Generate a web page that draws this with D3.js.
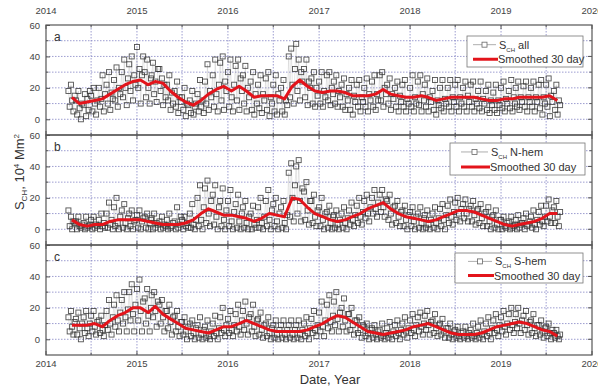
<!DOCTYPE html>
<html>
<head>
<meta charset="utf-8">
<script src="https://cdn.jsdelivr.net/npm/d3@7"></script>
<style>
body { margin: 0; background: #fff; }
text { font-family: "Liberation Sans", Arial, sans-serif; }
</style>
</head>
<body>
<div id="chart"></div>
<script>
// chart data (one entry per month, Apr 2014 - Aug 2019)
var firstMonth = new Date(2014, 3, 1);
var lastMonth = new Date(2019, 8, 1);
var years = [2014, 2015, 2016, 2017, 2018, 2019, 2020];
var yTicks = [0, 20, 40, 60];
var panelLetters = ["a", "b", "c"];
var seriesNames = ["all", "N-hem", "S-hem"];
var smoothName = "Smoothed 30 day";

var smoothAll = [14,10,11,12,13,16,19,22,24,
  25,22,24,23,18,14,11,9,12,16,19,21,
  18,21,18,14,15,15,15,13,21,25,21,18,
  17,18,18,17,15,15,15,16,19,16,15,14,
  14,15,14,12,13,14,14,14,14,13,12,12,
  13,13,14,14,14,14,15,12];
var smoothN = [6,3,2,3,3,5,6,6,6,
  6,5,4,3,3,3,4,6,10,13,11,9,
  9,8,7,5,7,10,9,8,20,19,14,10,
  8,6,5,6,8,10,13,15,17,13,10,8,
  7,6,5,6,8,10,12,12,11,9,7,5,
  3,2,3,4,5,7,10,10];
var smoothS = [9,9,9,10,8,12,15,17,20,
  20,17,21,16,13,10,7,6,5,4,6,8,
  8,10,12,10,8,6,5,5,5,5,6,8,
  10,13,15,14,11,8,5,4,3,4,5,6,
  8,9,10,8,6,4,3,3,3,4,6,8,
  9,10,11,10,8,6,5,2];

var scatterAll = [
  [18,8,22,12,5,15],[12,3,18,7,0,10],[9,16,2,13,6,18],[15,5,20,10,3,12],[20,8,13,28,5,16],
  [22,10,30,6,17,13],[25,12,33,8,20,16],[30,14,38,20,9,26],[35,18,40,12,28,22],
  [46,20,32,10,28,40],[30,14,38,20,10,26],[28,36,16,24,11,32],[32,18,26,9,22,14],[22,12,28,6,17,10],
  [18,8,24,4,14,11],[14,6,20,2,10,9],[12,4,18,3,8,10],[16,5,25,8,12,4],[24,10,35,6,18,14],
  [28,8,38,16,5,22],[36,12,40,6,24,18],
  [30,8,38,14,5,22],[34,12,38,6,26,18],[28,10,34,5,20,14],[24,6,30,3,16,10],[22,7,28,4,16,12],
  [26,6,30,2,14,10],[22,5,28,3,16,12],[20,5,25,3,12,9],[40,14,45,22,10,32],[48,18,38,12,30,24],
  [32,14,38,9,24,20],[26,10,30,8,20,15],
  [24,10,30,8,18,14],[28,12,30,9,20,16],[24,10,28,8,18,14],[22,8,26,6,16,12],[20,6,25,3,15,11],
  [22,8,25,5,14,11],[20,8,26,5,16,12],[24,8,28,6,16,12],[28,12,30,8,20,16],[22,10,26,6,16,13],
  [20,8,24,5,15,11],[22,8,25,5,13,10],
  [20,8,28,5,14,10],[24,9,28,5,16,12],[22,8,26,5,14,11],[18,6,25,3,12,9],[20,7,25,5,13,10],
  [20,8,25,5,14,11],[22,8,25,5,14,10],[20,8,24,5,15,11],[22,8,24,5,13,10],[18,7,24,5,13,10],
  [18,6,22,4,12,9],[17,6,22,4,12,9],
  [20,7,24,5,13,10],[18,7,25,5,14,10],[20,8,24,6,14,11],[21,8,24,5,14,11],[20,8,24,5,14,11],
  [22,7,25,3,14,10],[22,8,26,2,15,11],[18,6,22,3,12,9]
];
var scatterN = [
  [12,2,8,0,5,4],[5,0,8,2,1,3],[4,0,8,1,2,3],[6,0,8,1,3,2],[6,0,10,2,4,1],
  [10,1,17,3,6,0],[14,2,20,4,0,8],[12,1,16,4,0,7],[10,2,12,0,5,6],
  [9,1,12,0,5,7],[8,1,10,0,4,6],[7,0,10,1,4,3],[5,0,8,1,3,2],[6,0,10,1,2,4],
  [5,0,14,1,3,8],[6,0,8,2,4,1],[10,1,16,3,0,6],[20,2,28,6,0,14],[26,4,31,10,2,18],
  [22,3,28,8,0,14],[18,2,26,6,0,12],
  [18,2,25,5,0,11],[16,1,22,5,0,10],[14,1,18,4,0,8],[10,0,15,3,1,6],[14,1,20,4,0,8],
  [18,2,25,6,0,12],[16,2,20,5,0,10],[14,1,18,4,0,9],[36,8,42,20,5,28],[40,10,44,18,5,26],
  [24,6,30,12,3,18],[18,4,22,8,2,12],
  [14,2,20,6,0,10],[11,1,15,4,0,8],[9,1,12,3,0,6],[10,1,14,4,0,7],[12,3,17,6,2,9],
  [15,4,20,8,3,11],[18,7,22,10,5,14],[20,10,25,13,8,17],[22,11,25,14,8,19],[18,6,22,10,3,14],
  [15,4,18,8,2,11],[12,2,15,6,0,9],
  [11,2,14,5,0,8],[10,1,14,4,0,7],[9,1,12,3,0,6],[10,1,14,4,0,7],[13,2,16,6,0,9],
  [15,4,19,8,3,11],[17,6,20,10,5,13],[16,7,19,10,5,13],[15,5,18,9,3,12],[13,4,16,7,2,10],
  [11,2,14,5,0,8],[9,1,12,3,0,6],
  [6,0,8,2,1,4],[5,0,8,1,2,3],[6,0,9,1,3,4],[7,0,10,2,3,5],[8,1,12,3,0,6],
  [11,3,15,5,2,8],[15,5,19,8,4,12],[14,4,18,8,2,11]
];
var scatterS = [
  [14,5,18,8,3,11],[13,3,17,7,0,10],[14,4,18,7,2,10],[15,5,18,8,3,11],[12,4,15,6,2,9],
  [18,6,25,10,3,14],[22,8,28,12,5,17],[25,10,30,14,5,19],[30,12,35,16,5,22],
  [32,12,38,18,5,24],[26,10,32,15,5,20],[28,14,30,18,8,24],[22,10,25,14,5,18],[18,7,22,11,3,14],
  [15,5,18,8,2,11],[11,3,14,5,0,8],[10,2,12,4,0,7],[9,1,14,3,0,6],[8,1,12,2,0,5],
  [10,2,15,4,0,7],[14,4,20,6,2,9],
  [13,4,18,6,2,9],[16,5,22,8,3,12],[18,6,24,10,3,14],[16,5,22,8,2,12],[13,3,17,6,1,9],
  [10,2,14,4,0,7],[9,1,12,3,0,6],[9,1,12,3,0,6],[9,1,12,3,0,6],[9,1,12,3,0,6],
  [10,2,14,4,0,7],[13,4,18,6,2,9],
  [17,5,24,8,2,12],[22,7,28,11,5,15],[24,9,30,13,5,17],[20,8,26,12,5,16],[16,6,20,9,3,12],
  [12,4,14,6,1,9],[8,2,10,4,0,6],[7,1,9,3,0,5],[6,1,10,2,0,4],[7,1,11,3,0,5],
  [9,2,12,4,0,6],[10,3,14,5,1,7],
  [12,4,16,6,2,9],[14,5,17,8,3,10],[15,6,18,9,3,11],[12,4,16,7,2,9],[10,3,13,5,1,7],
  [7,1,10,3,0,5],[6,1,8,2,0,4],[5,1,8,2,0,4],[6,1,10,2,0,4],[8,1,12,3,0,5],
  [10,2,14,4,0,7],[12,4,16,6,2,9],
  [14,5,18,8,3,10],[16,6,20,9,4,11],[16,7,20,10,4,12],[15,6,18,9,3,11],[12,4,16,7,2,9],
  [9,3,12,5,1,7],[8,2,10,4,0,6],[4,1,6,2,0,3]
];

var svgWidth = 598;
var svgHeight = 389;
var margin = { top: 25, left: 46, right: 6 };
var panelHeight = 110;
var width = svgWidth - margin.left - margin.right;

var svg = d3.select("#chart")
  .append("svg")
  .attr("width", svgWidth)
  .attr("height", svgHeight);

var months = d3.timeMonth.range(firstMonth, lastMonth);

var x = d3.scaleTime()
  .domain([new Date(2014, 0, 1), new Date(2020, 0, 1)])
  .range([0, width]);

var y = d3.scaleLinear()
  .domain([-10, 60])
  .range([panelHeight, 0]);

var yearDates = years.map(d => new Date(d, 0, 1));
var halfYears = d3.timeMonth.every(6).range(new Date(2014, 0, 1), new Date(2020, 1, 1));

var panels = [
  { smooth: smoothAll, scatter: scatterAll },
  { smooth: smoothN, scatter: scatterN },
  { smooth: smoothS, scatter: scatterS }
];

var legendPos = [
  { x: 467, y: 36, w: 116, h: 31, lx: 473, tx: 498 },
  { x: 450, y: 143, w: 135, h: 32, lx: 461, tx: 490 },
  { x: 455, y: 253, w: 128, h: 30, lx: 468, tx: 494 }
];

panels.forEach(function(p, i) {
  var g = svg.append("g")
    .attr("transform", `translate(${margin.left}, ${margin.top + i * panelHeight})`);

  // grid
  g.append("g").selectAll("line")
    .data([0, 10, 20, 30, 40, 50])
    .enter().append("line")
    .attr("x1", 0).attr("x2", width)
    .attr("y1", d => y(d)).attr("y2", d => y(d))
    .attr("stroke", "#8484c4").attr("stroke-width", 0.8)
    .attr("stroke-dasharray", "1.5,1.5");
  g.append("g").selectAll("line")
    .data(halfYears.filter(d => x(d) > 1 && x(d) < width - 1))
    .enter().append("line")
    .attr("x1", d => x(d)).attr("x2", d => x(d))
    .attr("y1", 0).attr("y2", panelHeight)
    .attr("stroke", "#8484c4").attr("stroke-width", 0.8)
    .attr("stroke-dasharray", "1.5,1.5");

  // daily-ish points
  var pts = [];
  months.forEach(function(m, mi) {
    p.scatter[mi].forEach(function(v, k) {
      pts.push({ date: new Date(m.getFullYear(), m.getMonth(), 1 + k * 5), value: v });
    });
  });

  g.append("path")
    .datum(pts)
    .attr("fill", "none")
    .attr("stroke", "#888")
    .attr("stroke-width", 0.4)
    .attr("opacity", 0.5)
    .attr("d", d3.line().x(d => x(d.date)).y(d => y(d.value)));

  g.append("g").selectAll("rect")
    .data(pts)
    .enter().append("rect")
    .attr("x", d => x(d.date) - 2.5)
    .attr("y", d => y(d.value) - 2.5)
    .attr("width", 5).attr("height", 5)
    .attr("fill", "none")
    .attr("stroke", "#333")
    .attr("stroke-width", 0.9)
    .attr("opacity", 0.85);

  // smoothed line
  var smooth = months.map((m, mi) => ({ date: new Date(m.getFullYear(), m.getMonth(), 15), value: p.smooth[mi] }));
  g.append("path")
    .datum(smooth)
    .attr("fill", "none")
    .attr("stroke", "#e3141b")
    .attr("stroke-width", 3)
    .attr("stroke-linejoin", "round")
    .attr("d", d3.line().x(d => x(d.date)).y(d => y(d.value)));

  // frame
  g.append("rect")
    .attr("width", width).attr("height", panelHeight)
    .attr("fill", "none").attr("stroke", "#555").attr("stroke-width", 1.2);

  // y axis
  var left = g.append("g")
    .call(d3.axisLeft(y).tickValues(yTicks).tickSize(-4).tickPadding(6));
  left.select(".domain").remove();
  left.selectAll("text").attr("font-size", 9.5).attr("fill", "#444");
  left.selectAll("line").attr("stroke", "#555");
  g.append("g").selectAll("line")
    .data([10, 30, 50])
    .enter().append("line")
    .attr("x1", 0).attr("x2", 2.5)
    .attr("y1", d => y(d)).attr("y2", d => y(d))
    .attr("stroke", "#555");
  g.append("g").selectAll("line")
    .data([0, 10, 20, 30, 40, 50])
    .enter().append("line")
    .attr("x1", width).attr("x2", d => width - (d % 20 === 0 ? 4 : 2.5))
    .attr("y1", d => y(d)).attr("y2", d => y(d))
    .attr("stroke", "#555");

  // year ticks on top and bottom edges
  [0, panelHeight].forEach(function(yy) {
    var dir = yy === 0 ? 1 : -1;
    g.append("g").selectAll("line")
      .data(halfYears)
      .enter().append("line")
      .attr("x1", d => x(d)).attr("x2", d => x(d))
      .attr("y1", yy).attr("y2", d => yy + dir * (d.getMonth() === 0 ? 4 : 2.5))
      .attr("stroke", "#555");
  });

  g.append("text")
    .attr("x", 8).attr("y", 16)
    .attr("font-size", 12).attr("fill", "#333")
    .text(panelLetters[i]);

  // legend
  var lp = legendPos[i];
  var lg = svg.append("g");
  lg.append("rect")
    .attr("x", lp.x).attr("y", lp.y).attr("width", lp.w).attr("height", lp.h)
    .attr("fill", "#fff").attr("stroke", "#777").attr("stroke-width", 0.8);
  var r1 = lp.y + lp.h * 0.28;
  var r2 = lp.y + lp.h * 0.75;
  lg.append("line")
    .attr("x1", lp.lx).attr("x2", lp.tx - 2).attr("y1", r1).attr("y2", r1)
    .attr("stroke", "#999").attr("stroke-width", 0.8);
  lg.append("rect")
    .attr("x", (lp.lx + lp.tx - 2) / 2 - 2.5).attr("y", r1 - 2.5)
    .attr("width", 5).attr("height", 5)
    .attr("fill", "#fff").attr("stroke", "#666").attr("stroke-width", 0.8);
  var t1 = lg.append("text")
    .attr("x", lp.tx + 1).attr("y", r1 + 4)
    .attr("font-size", 11).attr("fill", "#333");
  t1.append("tspan").text("S");
  t1.append("tspan").attr("font-size", 6).attr("dy", 3).text("CH");
  t1.append("tspan").attr("dy", -3).text(" " + seriesNames[i]);
  lg.append("line")
    .attr("x1", lp.lx).attr("x2", lp.tx).attr("y1", r2).attr("y2", r2)
    .attr("stroke", "#e3141b").attr("stroke-width", 3);
  lg.append("text")
    .attr("x", lp.tx).attr("y", r2 + 4)
    .attr("font-size", 11).attr("fill", "#333")
    .text(smoothName);
});

// year labels, top and bottom
svg.append("g").selectAll("text")
  .data(yearDates)
  .enter().append("text")
  .attr("x", d => margin.left + x(d))
  .attr("y", 14)
  .attr("text-anchor", "middle")
  .attr("font-size", 9.5).attr("fill", "#444")
  .text(d => d.getFullYear());

svg.append("g").selectAll("text")
  .data(yearDates)
  .enter().append("text")
  .attr("x", d => margin.left + x(d))
  .attr("y", margin.top + 3 * panelHeight + 12)
  .attr("text-anchor", "middle")
  .attr("font-size", 9.5).attr("fill", "#444")
  .text(d => d.getFullYear());

// axis titles
svg.append("text")
  .attr("x", 330).attr("y", 384)
  .attr("text-anchor", "middle")
  .attr("font-size", 13).attr("fill", "#333")
  .text("Date, Year");

var yl = svg.append("text")
  .attr("transform", "translate(24, 172) rotate(-90)")
  .attr("text-anchor", "middle")
  .attr("font-size", 13).attr("fill", "#333");
yl.append("tspan").text("S");
yl.append("tspan").attr("font-size", 8).attr("dy", 3).text("CH");
yl.append("tspan").attr("dy", -3).text(", 10");
yl.append("tspan").attr("font-size", 8).attr("dy", -5).text("4");
yl.append("tspan").attr("dy", 5).text(" Mm");
yl.append("tspan").attr("font-size", 8).attr("dy", -5).text("2");
</script>
</body>
</html>
